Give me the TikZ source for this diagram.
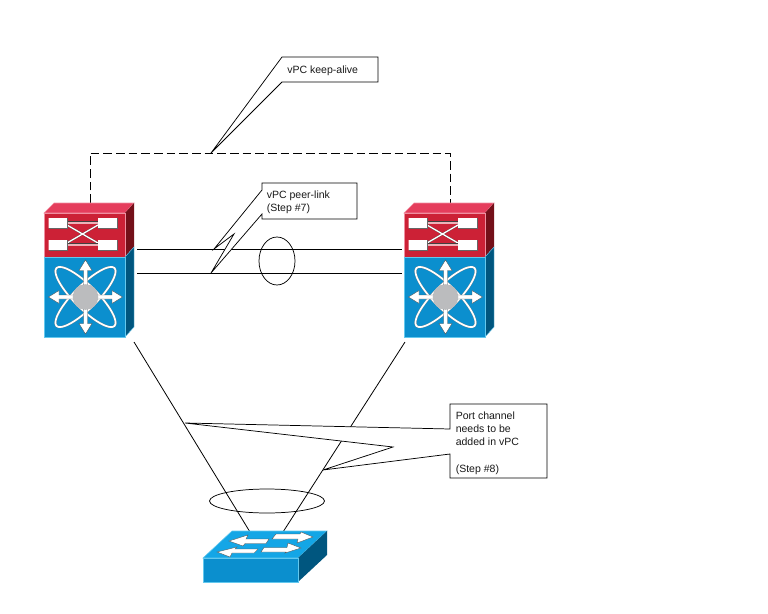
\documentclass[tikz,border=0pt]{standalone}
\usepackage{fontspec}
\setmainfont{Liberation Sans}
\definecolor{bfront}{HTML}{0B8FCE}
\definecolor{btop}{HTML}{14A6E6}
\definecolor{bside}{HTML}{00567F}
\definecolor{bedge}{HTML}{63C8EE}
\definecolor{rfront}{HTML}{CC2136}
\definecolor{rtop}{HTML}{E53D5C}
\definecolor{rside}{HTML}{741019}
\definecolor{redge}{HTML}{F08FA0}
\definecolor{hubgrey}{HTML}{BBBCBE}
\tikzset{
  x=0.75pt,y=-0.75pt,
  link/.style={draw=black,line width=0.6pt},
  keepalive/.style={draw=black,line width=0.6pt,dash pattern=on 6.5pt off 3pt},
  callout/.style={draw=black,fill=white,line width=0.55pt,line join=miter},
  calltext/.style={font=\fontsize{7.9}{9.9}\selectfont,align=left,anchor=west,inner sep=0pt,text=black!90},
  ring/.style={draw=black,line width=0.55pt},
  whitearrow/.style={fill=white,draw=black!70,line width=0.25pt,line join=miter},
  hubdisc/.style={circle,fill=hubgrey,inner sep=0pt,minimum size=19.2pt},
  pics/nexus/.style={code={
    % red module
    \path[fill=rtop,draw=redge,line width=0.4pt] (44,213)--(54,203)--(134,203)--(125,213)--cycle;
    \path[fill=rside] (125,213)--(134,203)--(134,247)--(125,257)--cycle;
    \path[fill=rfront,draw=redge,line width=0.5pt] (44,213) rectangle (125,257);
    % blue module
    \path[fill=bside,draw=bedge,line width=0.3pt] (125,257)--(134,247)--(134,327)--(125,337)--cycle;
    \path[fill=bfront,draw=bedge,line width=0.5pt] (44,257) rectangle (125,337);
    % fabric symbol
    \draw[black!75,line width=1.3pt] (67,225)--(98,243) (67,243)--(98,225);
    \draw[white,line width=1pt] (67,223)--(98,223) (67,245)--(98,245) (67,225)--(98,243) (67,243)--(98,225);
    \draw[black!75,line width=0.4pt] (67,221.5)--(98,221.5) (67,243.5)--(98,243.5);
    \path[fill=white] (48.5,218) rectangle (67,228) (98,218) rectangle (117,228)
                      (48.5,240) rectangle (67,250) (98,240) rectangle (117,250);
    \draw[black!60,line width=0.25pt] (48.5,228)--(67,228)--(67,218) (98,228)--(117,228)--(117,218)
                      (48.5,250)--(67,250)--(67,240) (98,250)--(117,250)--(117,240);
    % orbits
    \foreach \a in {45,-45}{
      \draw[black!50,line width=1.6pt,rotate around={\a:(85.5,297)}] (85.5,297) ellipse [x radius=41,y radius=11.5];
      \draw[white,line width=1.25pt,rotate around={\a:(85.5,297)}] (85.5,297) ellipse [x radius=41,y radius=11.5];
    }
    % arrows
    \foreach \a in {0,90,180,270}{
      \path[whitearrow,rotate around={\a:(85.5,297)}]
        (96,295)--(112,295)--(112,290.5)--(122.5,297)--(112,303.5)--(112,299)--(96,299)--cycle;
    }
    \node[hubdisc] (hubnode) at (85.5,297) {};
  }},
}
\begin{document}
\begin{tikzpicture}
\useasboundingbox (0,0) rectangle (768,614);
\fill[white] (0,0) rectangle (768,614);

% anchors of the devices
\coordinate (ka1) at (90,203);
\coordinate (ka2) at (450,203);
\coordinate (ka1t) at (90,153);
\coordinate (ka2t) at (450,153);
\coordinate (pa1) at (137,249);
\coordinate (pa2) at (402,249);
\coordinate (pb1) at (137,273);
\coordinate (pb2) at (402,273);
\coordinate (dl) at (134,342);
\coordinate (dr) at (405,342);
\coordinate (sl) at (250,532);
\coordinate (sr) at (283,532);

% links
\draw[keepalive] (ka1)--(ka1t)--(ka2t)--(ka2);
\draw[link] (pa1)--(pa2);
\draw[link] (pb1)--(pb2);
\draw[link] (dl)--(sl);
\draw[link] (dr)--(sr);
\draw[ring] (277,261) ellipse [x radius=18,y radius=24];
\draw[ring] (267,501) ellipse [x radius=57.5,y radius=12];

% devices
\pic at (0,0) {nexus};
\pic at (360,0) {nexus};

% access switch
\path[fill=btop,draw=bedge,line width=0.4pt] (203,558)--(232,531)--(327,531)--(298,558)--cycle;
\path[fill=bside] (298,558)--(327,531)--(327,555)--(298,582)--cycle;
\path[fill=bfront,draw=bedge,line width=0.5pt] (203,558) rectangle (298,582);
\path[whitearrow] (269,539)--(246,539)--(248,535)--(229,541)--(243,546)--(245,543.5)--(266,543.5)--cycle;
\path[whitearrow] (276,534)--(300,534)--(301,532)--(313,537)--(297,543)--(298,539)--(272,539)--cycle;
\path[whitearrow] (258,549)--(235,549)--(237,547)--(217,552)--(230,557)--(232,553)--(254,553)--cycle;
\path[whitearrow] (264,547.5)--(287,547.5)--(288,543)--(301,548)--(285,553)--(286,552)--(261,552)--cycle;

% callouts
\coordinate (kaNW) at (282,57);
\coordinate (kaSW) at (282,82);
\coordinate (kaSE) at (378,82);
\coordinate (kaNE) at (378,57);
\coordinate (kaTip) at (211,153);
\draw[callout] (kaNW)--(kaNE)--(kaSE)--(kaSW)--(kaTip)--cycle;
\node[calltext] (katext) at (287,71) {vPC keep-alive};

\coordinate (plNW) at (262,183);
\coordinate (plNE) at (357,183);
\coordinate (plSE) at (357,219);
\coordinate (plSW) at (262,219);
\coordinate (plA) at (262,190);
\coordinate (plB) at (262,214);
\coordinate (plTip1) at (214,249);
\coordinate (plBend) at (234,234);
\coordinate (plTip2) at (211,273);
\draw[callout] (plNW)--(plNE)--(plSE)--(plSW)--(plB)--(plTip2)--(plBend)--(plTip1)--(plA)--cycle;
\node[calltext] (pltext) at (266.5,202) {vPC peer-link\\(Step \#7)};

\coordinate (pcNW) at (450,404);
\coordinate (pcNE) at (547,404);
\coordinate (pcSE) at (547,478);
\coordinate (pcSW) at (450,478);
\coordinate (pcA) at (450,429);
\coordinate (pcB) at (450,454);
\coordinate (pcTip1) at (185,423);
\coordinate (pcBend) at (393,447);
\coordinate (pcTip2) at (323,470);
\draw[callout] (pcNW)--(pcNE)--(pcSE)--(pcSW)--(pcB)--(pcTip2)--(pcBend)--(pcTip1)--(pcA)--cycle;
\node[calltext] (pctext) at (455.5,443) {Port channel\\needs to be\\added in vPC\\[9.9pt](Step \#8)};
\end{tikzpicture}
\end{document}
